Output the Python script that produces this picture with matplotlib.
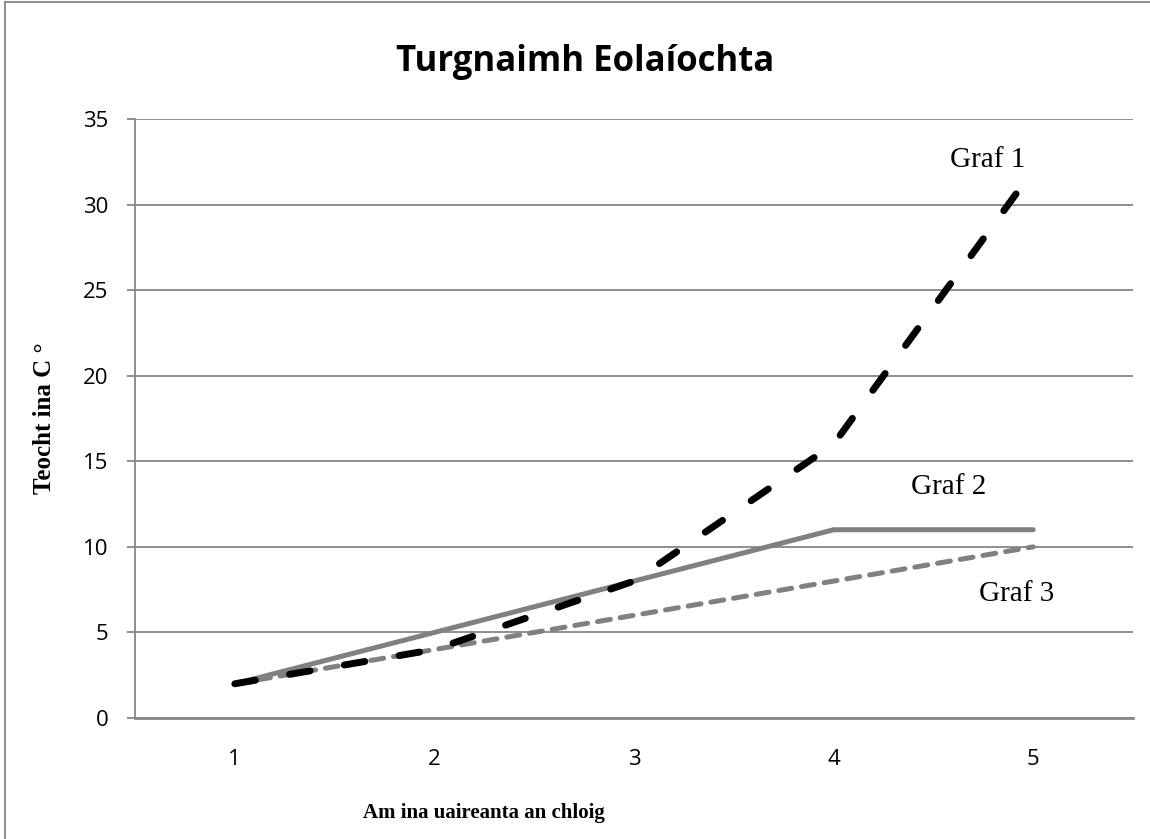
import matplotlib.pyplot as plt
from matplotlib.lines import Line2D

# data
hours = [1, 2, 3, 4, 5]
graf_1 = [2, 4, 8, 16, 32]
graf_2 = [2, 5, 8, 11, 11]
graf_3 = [2, 4, 6, 8, 10]
y_ticks = [0, 5, 10, 15, 20, 25, 30, 35]

grey = '#868686'

fig = plt.figure(figsize=(11.5, 8.39), dpi=100)
ax = fig.add_axes([135 / 1150, 1 - 718 / 839, (1133 - 135) / 1150, (718 - 119) / 839])

# gridlines
for v in y_ticks:
    ax.axhline(v, color=grey, linewidth=1.3, zorder=1)

ax.plot(hours, graf_2, color='#808080', linewidth=3.6, solid_capstyle='round',
        solid_joinstyle='round', zorder=3)
ax.plot(hours, graf_3, color='#808080', linewidth=3.6, dashes=(2.6, 2.0),
        dash_capstyle='round', zorder=3)
ax.plot(hours, graf_1, color='black', linewidth=5.0, dashes=(3.0, 5.0),
        dash_capstyle='round', zorder=4)

ax.set_xlim(0.5, 5.5)
ax.set_ylim(0, 35)
ax.set_yticks(y_ticks)
ax.set_xticks(hours)

for s in ['top', 'right']:
    ax.spines[s].set_visible(False)
ax.spines['left'].set_color(grey)
ax.spines['left'].set_linewidth(1.3)
ax.spines['bottom'].set_color(grey)
ax.spines['bottom'].set_linewidth(2.0)

ax.tick_params(axis='y', length=6, width=1.3, color=grey, pad=13,
               labelsize=16)
ax.tick_params(axis='x', length=0, pad=22, labelsize=16)
for lab in ax.get_xticklabels() + ax.get_yticklabels():
    lab.set_fontfamily('Open Sans')

# series labels
ax.text(4.77, 32.6, 'Graf 1', fontsize=21, family='Liberation Serif',
        ha='center', va='center')
ax.text(4.575, 13.5, 'Graf 2', fontsize=21, family='Liberation Serif',
        ha='center', va='center')
ax.text(4.915, 7.25, 'Graf 3', fontsize=21, family='Liberation Serif',
        ha='center', va='center')

fig.text(585 / 1150, 1 - 62 / 839, 'Turgnaimh Eolaíochta', fontsize=25,
         fontweight='bold', family='Open Sans', ha='center', va='center')
fig.text(484 / 1150, 1 - 813 / 839, 'Am ina uaireanta an chloig', fontsize=15,
         fontweight='bold', family='Liberation Serif', ha='center', va='center')
fig.text(45 / 1150, 1 - 418 / 839, 'Teocht ina C °', fontsize=18,
         fontweight='bold', family='Liberation Serif', ha='center', va='center',
         rotation=90)

# outer chart border (left and top edges are visible)
fig.add_artist(Line2D([5 / 1150, 5 / 1150], [0, 1 - 2 / 839], color=grey,
                      linewidth=1.3, transform=fig.transFigure))
fig.add_artist(Line2D([5 / 1150, 1], [1 - 2 / 839, 1 - 2 / 839], color=grey,
                      linewidth=1.3, transform=fig.transFigure))

fig.savefig('out.png', dpi=100)
